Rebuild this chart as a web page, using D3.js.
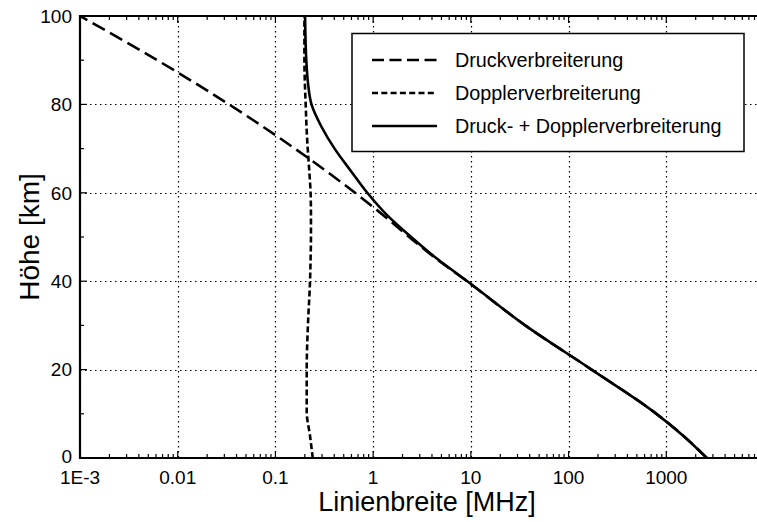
<!DOCTYPE html>
<html>
<head>
<meta charset="utf-8">
<script src="https://d3js.org/d3.v7.min.js"></script>
<style>
  body { margin: 0; background: #fff; }
  text { font-family: "Liberation Sans", Arial, sans-serif; fill: #000; }
</style>
</head>
<body>
<script>
// Höhenprofil der Linienbreite (Druck-, Doppler- und kombinierte Verbreiterung)
const heights = [0, 5, 10.5, 20, 30, 40, 45, 50, 55, 60, 65, 70, 75, 80, 85, 90, 100];
const druck   = [2600, 1500, 740, 172, 36, 9.12, 4.47, 2.34, 1.26, 0.653, 0.327, 0.158, 0.0741, 0.0335, 0.01462, 0.00617, 0.001];
const doppler = [0.241, 0.226, 0.209, 0.209, 0.215, 0.226, 0.229, 0.231, 0.231, 0.229, 0.222, 0.214, 0.208, 0.204, 0.2, 0.198, 0.198];
const summe   = [2600, 1500, 740, 172, 36, 9.2, 4.55, 2.45, 1.38, 0.871, 0.589, 0.403, 0.295, 0.234, 0.215, 0.207, 0.201];

const xMajor = [1e-3, 1e-2, 1e-1, 1, 10, 100, 1000, 10000];
const xLabels = ["1E-3", "0.01", "0.1", "1", "10", "100", "1000", ""];
const yMajor = [0, 20, 40, 60, 80, 100];
const yMinor = [10, 30, 50, 70, 90];

const legendNames = ["Druckverbreiterung", "Dopplerverbreiterung", "Druck- + Dopplerverbreiterung"];

const W = 757, H = 522;
const pLeft = 80, pRight = 764, pTop = 16, pBottom = 458;

const svg = d3.select("body").append("svg")
  .attr("width", W)
  .attr("height", H);

const x = d3.scaleLog().domain([1e-3, 1e4]).range([pLeft, pRight]);
const y = d3.scaleLinear().domain([0, 100]).range([pBottom, pTop]);

// minor ticks for the log axis (2..9 per decade)
const xMinor = [];
for (let e = -3; e < 4; e++) {
  for (let m = 2; m <= 9; m++) xMinor.push(m * Math.pow(10, e));
}

svg.append("clipPath").attr("id", "plot")
  .append("rect")
  .attr("x", pLeft).attr("y", pTop)
  .attr("width", pRight - pLeft).attr("height", pBottom - pTop);

// gridlines
const grid = svg.append("g")
  .attr("stroke", "#000")
  .attr("stroke-width", 1.2)
  .attr("stroke-dasharray", "1.5,3.5");

grid.selectAll(".gx")
  .data(xMajor.slice(1, -1))
  .enter().append("line")
  .attr("x1", d => Math.round(x(d)) + 0.5).attr("x2", d => Math.round(x(d)) + 0.5)
  .attr("y1", pTop).attr("y2", pBottom);

grid.selectAll(".gy")
  .data(yMajor.slice(1, -1))
  .enter().append("line")
  .attr("x1", pLeft).attr("x2", pRight)
  .attr("y1", d => Math.round(y(d)) + 0.5).attr("y2", d => Math.round(y(d)) + 0.5);

// ticks (pointing inwards)
const ticks = svg.append("g").attr("stroke", "#000").attr("stroke-width", 1.2);

[[pBottom, -1], [pTop, 1]].forEach(([yy, dir]) => {
  ticks.selectAll(null).data(xMajor).enter().append("line")
    .attr("x1", d => x(d)).attr("x2", d => x(d))
    .attr("y1", yy).attr("y2", d => yy + dir * 7);
  ticks.selectAll(null).data(xMinor).enter().append("line")
    .attr("x1", d => x(d)).attr("x2", d => x(d))
    .attr("y1", yy).attr("y2", d => yy + dir * 4);
});

ticks.selectAll(null).data(yMajor).enter().append("line")
  .attr("x1", pLeft).attr("x2", pLeft + 7)
  .attr("y1", d => y(d)).attr("y2", d => y(d));
ticks.selectAll(null).data(yMinor).enter().append("line")
  .attr("x1", pLeft).attr("x2", pLeft + 4)
  .attr("y1", d => y(d)).attr("y2", d => y(d));

// curves
const line = (vals, curve) => d3.line()
  .x((h, i) => x(vals[i]))
  .y(h => y(h))
  .curve(curve)(heights);

const curves = svg.append("g")
  .attr("clip-path", "url(#plot)")
  .attr("fill", "none")
  .attr("stroke", "#000")
  .attr("stroke-width", 2.6);

curves.append("path")
  .attr("d", line(druck, d3.curveMonotoneY))
  .attr("stroke-dasharray", "14,6");

curves.append("path")
  .attr("d", line(doppler, d3.curveMonotoneY))
  .attr("stroke-dasharray", "6,3");

curves.append("path")
  .attr("d", line(summe, d3.curveMonotoneY));

// axis frame
const frame = svg.append("g").attr("stroke", "#000").attr("stroke-width", 2.2);
frame.append("line").attr("x1", pLeft).attr("x2", pLeft).attr("y1", pTop - 1).attr("y2", pBottom + 1);
frame.append("line").attr("x1", pLeft - 1).attr("x2", pRight).attr("y1", pBottom).attr("y2", pBottom);
frame.append("line").attr("x1", pLeft - 1).attr("x2", pRight).attr("y1", pTop).attr("y2", pTop);

// tick labels
svg.selectAll(".xl")
  .data(xMajor)
  .enter().append("text")
  .attr("x", d => x(d))
  .attr("y", 484)
  .attr("text-anchor", "middle")
  .style("font-size", "19px")
  .text((d, i) => xLabels[i]);

svg.selectAll(".yl")
  .data(yMajor)
  .enter().append("text")
  .attr("x", 72)
  .attr("y", d => y(d) - (d === 0 ? 2 : 0))
  .attr("dy", "0.36em")
  .attr("text-anchor", "end")
  .style("font-size", "19px")
  .text(d => d);

// axis titles
svg.append("text")
  .attr("x", 427)
  .attr("y", 511)
  .attr("text-anchor", "middle")
  .style("font-size", "27px")
  .text("Linienbreite [MHz]");

svg.append("text")
  .attr("transform", "translate(39," + ((pTop + pBottom) / 2) + ") rotate(-90)")
  .attr("text-anchor", "middle")
  .style("font-size", "28px")
  .text("Höhe [km]");

// legend
const legend = svg.append("g");
legend.append("rect")
  .attr("x", 352).attr("y", 33.5)
  .attr("width", 392).attr("height", 118)
  .attr("fill", "#fff")
  .attr("stroke", "#000")
  .attr("stroke-width", 1.5);

const dashes = ["12,5.5", "6,3.3", null];
legendNames.forEach((name, i) => {
  const yy = 60 + i * 33;
  legend.append("line")
    .attr("x1", 372).attr("x2", 437)
    .attr("y1", yy).attr("y2", yy)
    .attr("stroke", "#000")
    .attr("stroke-width", 2.6)
    .attr("stroke-dasharray", dashes[i]);
  legend.append("text")
    .attr("x", 455)
    .attr("y", yy + 7)
    .style("font-size", "19.8px")
    .text(name);
});
</script>
</body>
</html>
